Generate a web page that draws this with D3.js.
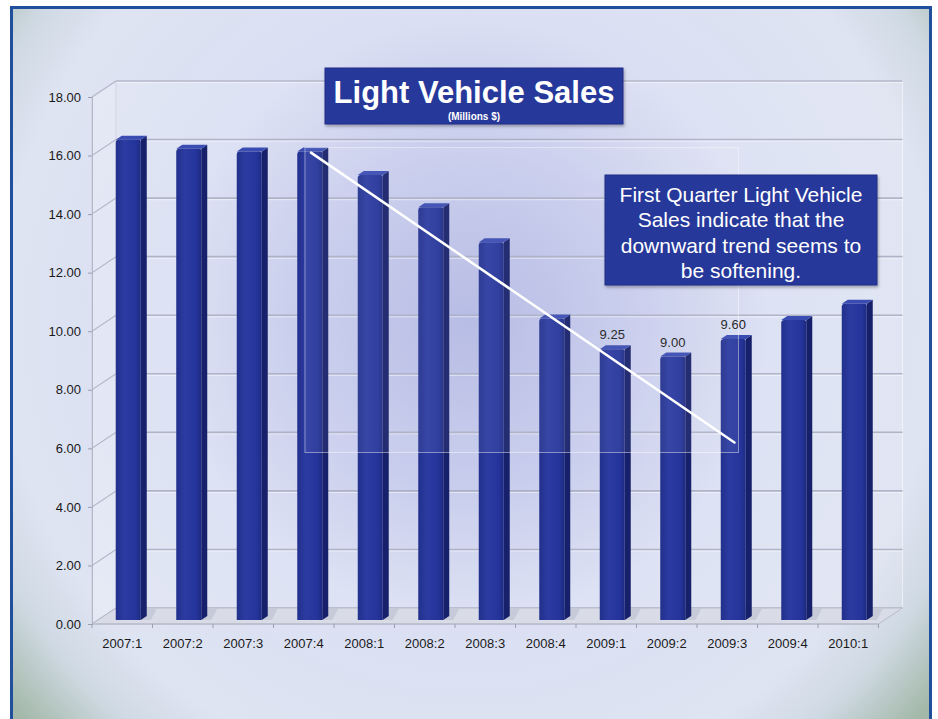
<!DOCTYPE html>
<html>
<head>
<meta charset="utf-8">
<script src="https://cdn.jsdelivr.net/npm/d3@7"></script>
<style>
  html, body { margin: 0; padding: 0; background: #ffffff; }
  svg { display: block; }
  text { font-family: "Liberation Sans", Arial, Helvetica, sans-serif; }
</style>
</head>
<body>
<svg id="chart" width="938" height="719"></svg>
<script>
// ---------------- data ----------------
const categories = ["2007:1","2007:2","2007:3","2007:4","2008:1","2008:2","2008:3","2008:4","2009:1","2009:2","2009:3","2009:4","2010:1"];
const sales = [16.4, 16.1, 16.0, 16.0, 15.2, 14.1, 12.9, 10.3, 9.25, 9.0, 9.6, 10.25, 10.8];
const labeledCategories = ["2009:1","2009:2","2009:3"];
const labeledTexts = ["9.25","9.00","9.60"];
const yTicks = [0, 2, 4, 6, 8, 10, 12, 14, 16, 18];
const trendCategories = ["2007:4", "2009:3"];
const trendValues = [16.1, 6.2];
const titleText = "Light Vehicle Sales";
const subtitleText = "(Millions $)";
const noteLines = ["First Quarter Light Vehicle", "Sales indicate that the", "downward trend seems to", "be softening."];

// ---------------- layout ----------------
const W = 938, H = 719;
const svg = d3.select("#chart");
const defs = svg.append("defs");

const x = d3.scaleBand().domain(categories).range([92, 878.5]).paddingInner(0).paddingOuter(0);
const y = d3.scaleLinear().domain([0, 18]).range([624, 97]);
const DX = 24, DY = -16;          // 3D depth offset (front -> back wall)
const fFront = 0.25, fBack = 0.5; // depth fractions of bar faces
const barW = 25;

// background gradient
const bg = defs.append("radialGradient").attr("id", "bg")
  .attr("gradientUnits", "userSpaceOnUse").attr("cx", 470).attr("cy", 320).attr("r", 600);
[[0, "#abb1e1"], [0.28, "#c3c8eb"], [0.5, "#dadff3"], [0.78, "#dfe4f2"], [0.88, "#cfd9e3"], [1, "#a3b8a8"]]
  .forEach(([o, c]) => bg.append("stop").attr("offset", o).attr("stop-color", c));

const barGrad = defs.append("linearGradient").attr("id", "barFront").attr("x1", 0).attr("x2", 1).attr("y1", 0).attr("y2", 0);
[[0, "#22308c"], [0.35, "#2b3ba1"], [0.8, "#25349a"], [1, "#1d2a82"]]
  .forEach(([o, c]) => barGrad.append("stop").attr("offset", o).attr("stop-color", c));

// frame
svg.append("rect").attr("x", 11.5).attr("y", 7.5).attr("width", 919).attr("height", 730)
  .attr("fill", "url(#bg)").attr("stroke", "#1f4f9d").attr("stroke-width", 3);

// ---------------- 3D walls ----------------
const x0 = x.range()[0], x1 = x.range()[1];
const yb = y(0), yt = y(18);
const g = svg.append("g");

// back wall
g.append("rect").attr("x", x0 + DX).attr("y", yt + DY).attr("width", x1 - x0).attr("height", yb - yt)
  .attr("fill", "rgba(255,255,255,0.10)").attr("stroke", "rgba(255,255,255,0.55)").attr("stroke-width", 1);
// left wall
g.append("path")
  .attr("d", `M${x0},${yb}L${x0},${yt}L${x0 + DX},${yt + DY}L${x0 + DX},${yb + DY}Z`)
  .attr("fill", "rgba(255,255,255,0.22)").attr("stroke", "rgba(200,204,220,0.9)").attr("stroke-width", 1);

// gridlines (back wall + left wall)
yTicks.forEach(v => {
  const yy = y(v);
  g.append("line").attr("x1", x0 + DX).attr("x2", x1 + DX).attr("y1", yy + DY).attr("y2", yy + DY)
    .attr("stroke", "#a7abbf").attr("stroke-width", 1.6).attr("stroke-opacity", 0.85);
  g.append("line").attr("x1", x0 + DX).attr("x2", x1 + DX).attr("y1", yy + DY + 1.6).attr("y2", yy + DY + 1.6)
    .attr("stroke", "#ffffff").attr("stroke-width", 1).attr("stroke-opacity", 0.5);
  g.append("line").attr("x1", x0).attr("x2", x0 + DX).attr("y1", yy).attr("y2", yy + DY)
    .attr("stroke", "#b4b8ca").attr("stroke-width", 1.2);
});

// floor
g.append("path")
  .attr("d", `M${x0},${yb}L${x1},${yb}L${x1 + DX},${yb + DY}L${x0 + DX},${yb + DY}Z`)
  .attr("fill", "#d9dce7").attr("stroke", "#b7bacb").attr("stroke-width", 1);
// floor shadows behind bars
categories.forEach(c => {
  const cx = x(c) + x.bandwidth() / 2;
  const l = cx - barW / 2 + DX * fFront, r = cx + barW / 2 + DX * fFront;
  g.append("path")
    .attr("d", `M${l + 4},${yb + DY * fFront}L${r + 10},${yb + DY * fFront}L${r + 16},${yb + DY * 0.95}L${l + 10},${yb + DY * 0.95}Z`)
    .attr("fill", "#bfc2d1").attr("opacity", 0.7);
});

// ---------------- bars ----------------
const bars = g.append("g");
categories.forEach((c, i) => {
  const v = sales[i];
  const cx = x(c) + x.bandwidth() / 2 + DX * fFront;
  const l = cx - barW / 2, r = cx + barW / 2;
  const top = y(v) + DY * fFront, bot = y(0) + DY * fFront;
  const ddx = DX * (fBack - fFront), ddy = DY * (fBack - fFront);
  // side face
  bars.append("path").attr("d", `M${r},${top}L${r + ddx},${top + ddy}L${r + ddx},${bot + ddy}L${r},${bot}Z`)
    .attr("fill", "#17206a");
  // top face
  bars.append("path").attr("d", `M${l},${top}L${r},${top}L${r + ddx},${top + ddy}L${l + ddx},${top + ddy}Z`)
    .attr("fill", "#3a4cb2");
  // front face
  bars.append("path")
    .attr("d", `M${l},${bot}L${l},${top + 3}Q${l},${top} ${l + 3},${top}L${r - 2},${top}Q${r},${top} ${r},${top + 2}L${r},${bot}Z`)
    .attr("fill", "url(#barFront)");
});

// ---------------- axes ----------------
const yAxis = svg.append("g").attr("transform", `translate(${x0},0)`)
  .call(d3.axisLeft(y).tickValues(yTicks).tickFormat(d3.format(".2f")).tickSize(4).tickPadding(7));
yAxis.select(".domain").attr("stroke", "#b2b6c6");
yAxis.selectAll(".tick line").attr("stroke", "#9a9eb0");
yAxis.selectAll("text").attr("font-size", 13).attr("fill", "#1a1a1a")
  .style("font-family", '"Liberation Sans", Arial, sans-serif');

// x axis: front edge, ticks at band boundaries, labels centered
svg.append("line").attr("x1", x0).attr("x2", x1).attr("y1", yb).attr("y2", yb).attr("stroke", "#b2b6c6");
const bounds = categories.map(c => x(c)).concat([x1]);
svg.selectAll(".xtick").data(bounds).join("line").attr("class", "xtick")
  .attr("x1", d => d).attr("x2", d => d).attr("y1", yb).attr("y2", yb + 4).attr("stroke", "#9a9eb0");
svg.selectAll(".xlab").data(categories).join("text").attr("class", "xlab")
  .attr("x", d => x(d) + x.bandwidth() / 2).attr("y", 648).attr("text-anchor", "middle")
  .attr("font-size", 13).attr("fill", "#1a1a1a").text(d => d);

// data labels
labeledCategories.forEach((c, i) => {
  const v = sales[categories.indexOf(c)];
  svg.append("text")
    .attr("x", x(c) + x.bandwidth() / 2 + DX * fFront)
    .attr("y", y(v) + DY * fBack - 6)
    .attr("text-anchor", "middle").attr("font-size", 13).attr("fill", "#1a1a1a")
    .text(labeledTexts[i]);
});

// ---------------- trend line annotation ----------------
const tx = trendCategories.map(c => x(c) + x.bandwidth() / 2 + DX * 0.3);
const ty = trendValues.map(v => y(v));
svg.append("rect")
  .attr("x", tx[0] - 6).attr("y", ty[0] - 5).attr("width", tx[1] - tx[0] + 10).attr("height", ty[1] - ty[0] + 15)
  .attr("fill", "rgba(255,255,255,0.06)").attr("stroke", "rgba(255,255,255,0.45)").attr("stroke-width", 1);
svg.append("line").attr("x1", tx[0]).attr("y1", ty[0]).attr("x2", tx[1]).attr("y2", ty[1])
  .attr("stroke", "#ffffff").attr("stroke-width", 2.5).attr("stroke-linecap", "round");

// ---------------- title box ----------------
const shadow = defs.append("filter").attr("id", "sh").attr("x", "-10%").attr("y", "-10%").attr("width", "130%").attr("height", "140%");
shadow.append("feDropShadow").attr("dx", 1).attr("dy", 2).attr("stdDeviation", 1.5).attr("flood-color", "#000").attr("flood-opacity", 0.3);

svg.append("rect").attr("x", 325).attr("y", 68).attr("width", 298).attr("height", 56)
  .attr("fill", "#27399a").attr("stroke", "#1e2f88").attr("stroke-width", 1).attr("filter", "url(#sh)");
svg.append("text").attr("x", 474).attr("y", 103).attr("text-anchor", "middle")
  .attr("font-size", 31).attr("font-weight", "bold").attr("fill", "#ffffff").text(titleText);
svg.append("text").attr("x", 474).attr("y", 120).attr("text-anchor", "middle")
  .attr("font-size", 10).attr("font-weight", "bold").attr("fill", "#ffffff").text(subtitleText);

// ---------------- note box ----------------
svg.append("rect").attr("x", 605).attr("y", 175).attr("width", 272).attr("height", 110)
  .attr("fill", "#27399a").attr("stroke", "#1e2f88").attr("stroke-width", 1).attr("filter", "url(#sh)");
svg.selectAll(".note").data(noteLines).join("text").attr("class", "note")
  .attr("x", 741).attr("y", (d, i) => 201.5 + i * 25.5).attr("text-anchor", "middle")
  .attr("font-size", 21).attr("fill", "#ffffff").text(d => d);
</script>
</body>
</html>
